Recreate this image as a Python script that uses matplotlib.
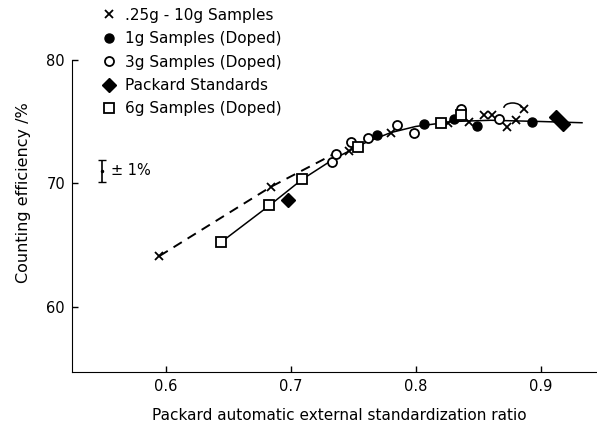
import numpy as np
import matplotlib.pyplot as plt
from matplotlib.patches import Arc

plt.rcParams['font.family'] = ['DejaVu Sans']

# .25g - 10g samples (crosses)
x_cross = [0.595, 0.684, 0.747, 0.780, 0.826, 0.843, 0.855, 0.861, 0.873, 0.880, 0.887]
y_cross = [64.1, 69.7, 72.6, 74.1, 74.9, 75.0, 75.5, 75.5, 74.55, 75.15, 76.0]

# 1g samples (doped) - filled circles
x_fill = [0.769, 0.807, 0.831, 0.849, 0.893]
y_fill = [73.9, 74.8, 75.2, 74.6, 74.95]

# 3g samples (doped) - open circles
x_open = [0.733, 0.7365, 0.748, 0.762, 0.785, 0.799, 0.8365, 0.8664]
y_open = [71.7, 72.4, 73.3, 73.7, 74.7, 74.1, 76.05, 75.2]

# Packard standards - diamonds
x_dia = [0.698, 0.9125, 0.918]
y_dia = [68.6, 75.4, 74.8]

# 6g samples (doped) - open squares
x_sq = [0.644, 0.683, 0.709, 0.754, 0.820, 0.8365]
y_sq = [65.2, 68.2, 70.3, 72.9, 74.9, 75.5]

# drawn curves
x_solid = [0.644, 0.683, 0.709, 0.735, 0.760, 0.780, 0.800, 0.830, 0.860, 0.900, 0.933]
y_solid = [65.2, 68.2, 70.3, 72.0, 73.3, 74.1, 74.6, 75.0, 75.1, 75.0, 74.9]
x_dash = [0.595, 0.684, 0.737]
y_dash = [64.1, 69.7, 72.5]

fig = plt.figure(figsize=(5.97, 4.23), dpi=100)
ax = fig.add_axes([0.1206, 0.1206, 0.8794, 0.738])

ax.plot(x_solid, y_solid, color='black', lw=1.1, zorder=1)
ax.plot(x_dash, y_dash, color='black', lw=1.4, ls=(0, (5, 3.5)), zorder=1)

ms = 6.5
h1, = ax.plot(x_cross, y_cross, 'x', color='black', ms=6, mew=1.3, ls='none', label='.25g - 10g Samples')
h2, = ax.plot(x_fill, y_fill, 'o', color='black', ms=ms, ls='none', label='1g Samples (Doped)')
h3, = ax.plot(x_open, y_open, 'o', mfc='white', mec='black', mew=1.3, ms=ms, ls='none', label='3g Samples (Doped)')
h4, = ax.plot(x_dia, y_dia, 'D', color='black', ms=7, ls='none', label='Packard Standards')
h5, = ax.plot(x_sq, y_sq, 's', mfc='white', mec='black', mew=1.3, ms=ms, ls='none', label='6g Samples (Doped)')

ax.add_patch(Arc((0.8775, 76.1), 0.014, 0.8, theta1=20, theta2=160, color='black', lw=1.1))

# error bar indicator
ax.errorbar([0.549], [71.0], yerr=[0.88], fmt='.', color='black', ms=3, capsize=3, lw=1.2)
ax.text(0.556, 71.0, '± 1%', fontsize=10.5, va='center', ha='left')

ax.set_xlim(0.525, 0.945)
ax.set_ylim(54.7, 80)
ax.set_xticks([0.6, 0.7, 0.8, 0.9])
ax.set_xticklabels(['0.6', '0.7', '0.8', '0.9'])
ax.set_yticks([60, 70, 80])
ax.spines['top'].set_visible(False)
ax.spines['right'].set_visible(False)
ax.tick_params(direction='in', length=4, width=1, labelsize=10.5, pad=5)
ax.set_xlabel('Packard automatic external standardization ratio', fontsize=11)
ax.xaxis.set_label_coords(0.51, -0.115)
ax.set_ylabel('Counting efficiency /%', fontsize=11.5)
ax.yaxis.set_label_coords(-0.078, 0.573)

fig.legend(handles=[h1, h2, h3, h4, h5], loc='upper left', bbox_to_anchor=(0.155, 1.007),
           frameon=False, fontsize=11, handlelength=0.8, handletextpad=0.6,
           labelspacing=0.55, borderpad=0.2)

fig.savefig('out.png', dpi=100)
